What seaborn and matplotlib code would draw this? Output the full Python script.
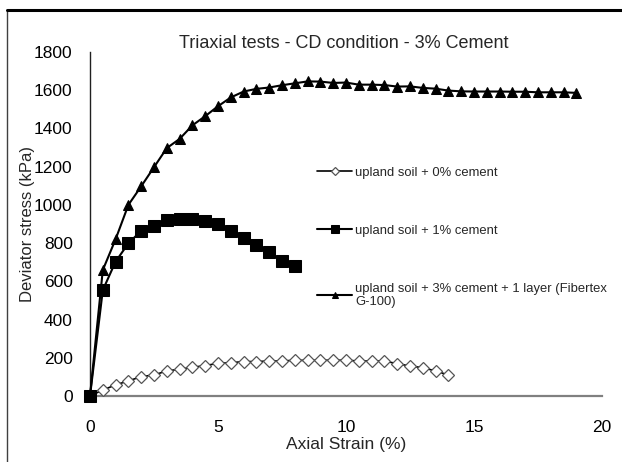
import numpy as np
import pandas as pd
import matplotlib.pyplot as plt
from matplotlib.lines import Line2D
import seaborn as sns

# axial strain steps (%)
strain_0 = [0, 0.5, 1, 1.5, 2, 2.5, 3, 3.5, 4, 4.5, 5, 5.5, 6, 6.5, 7, 7.5, 8,
            8.5, 9, 9.5, 10, 10.5, 11, 11.5, 12, 12.5, 13, 13.5, 14]
stress_0 = [0, 31, 58, 79, 101, 110, 131, 140, 150, 159, 171, 174, 180, 180,
            183, 183, 187, 186, 187, 187, 187, 183, 183, 183, 169, 157, 148, 131, 110]

strain_1 = [0, 0.5, 1, 1.5, 2, 2.5, 3, 3.5, 4, 4.5, 5, 5.5, 6, 6.5, 7, 7.5, 8]
stress_1 = [0, 554, 703, 799, 864, 892, 920, 928, 928, 918, 900, 865, 827,
            788, 753, 708, 680]

strain_3 = [0, 0.5, 1, 1.5, 2, 2.5, 3, 3.5, 4, 4.5, 5, 5.5, 6, 6.5, 7, 7.5, 8,
            8.5, 9, 9.5, 10, 10.5, 11, 11.5, 12, 12.5, 13, 13.5, 14, 14.5, 15,
            15.5, 16, 16.5, 17, 17.5, 18, 18.5, 19]
stress_3 = [0, 659, 820, 1000, 1097, 1197, 1297, 1345, 1416, 1464, 1516, 1562,
            1593, 1607, 1614, 1626, 1636, 1646, 1645, 1638, 1640, 1629, 1629,
            1627, 1619, 1620, 1612, 1608, 1598, 1594, 1593, 1593, 1593, 1592,
            1592, 1589, 1589, 1589, 1586]

labels = ['upland soil + 0% cement',
          'upland soil + 1% cement',
          'upland soil + 3% cement + 1 layer (Fibertex\nG-100)']
x_ticks = [0, 5, 10, 15, 20]
y_ticks = [0, 200, 400, 600, 800, 1000, 1200, 1400, 1600, 1800]

sns.set_style('white')
plt.rcParams['font.family'] = ['Liberation Sans', 'DejaVu Sans']

fig = plt.figure(figsize=(6.22, 4.62), dpi=100)
ax = fig.add_axes([0.1447, 0.1429, 0.823, 0.7446])

sns.lineplot(x=strain_0, y=stress_0, ax=ax, color='black', lw=1.2,
             marker='D', ms=6.5, mfc='white', mec='#555555', mew=0.9,
             label=labels[0], zorder=3, clip_on=False)
sns.lineplot(x=strain_1, y=stress_1, ax=ax, color='black', lw=1.5,
             marker='s', ms=8, mfc='black', mec='black',
             label=labels[1], zorder=4, clip_on=False)
sns.lineplot(x=strain_3, y=stress_3, ax=ax, color='black', lw=1.5,
             marker='^', ms=7.5, mfc='black', mec='black',
             label=labels[2], zorder=5, clip_on=False)

ax.set_xlim(0, 20)
ax.set_ylim(0, 1800)
ax.set_xticks(x_ticks)
ax.set_yticks(y_ticks)
ax.tick_params(axis='both', labelsize=12.5, colors='black')
ax.tick_params(axis='x', direction='out', length=4.5, width=1, color='#808080', pad=13)
ax.tick_params(axis='y', direction='out', length=3.5, width=1, color='#404040', pad=9)
ax.margins(0)

for s in ['top', 'right']:
    ax.spines[s].set_visible(False)
ax.spines['bottom'].set_color('#808080')
ax.spines['bottom'].set_linewidth(1.6)
ax.spines['left'].set_color('#202020')
ax.spines['left'].set_linewidth(1.0)

ax.set_xlabel('Axial Strain (%)', fontsize=12.5, labelpad=1)
ax.set_ylabel('Deviator stress (kPa)', fontsize=12)
ax.yaxis.set_label_coords(-0.107, 0.5)
ax.set_title('Triaxial tests - CD condition - 3% Cement', fontsize=13, pad=3, x=0.495)

leg = ax.legend(loc='upper left', bbox_to_anchor=(0.431, 0.685), frameon=False,
                fontsize=9.4, handlelength=2.7, handletextpad=0.2,
                labelspacing=3.5, markerscale=0.65, borderpad=0)

# outer frame (cropped chart area border)
fig.add_artist(Line2D([7 / 622, 7 / 622], [0, 1 - 10 / 462], color='#404040', lw=1))
fig.add_artist(Line2D([7 / 622, 1], [1 - 10 / 462, 1 - 10 / 462], color='black', lw=2.2))

fig.savefig('out.png', dpi=100, facecolor='white')
